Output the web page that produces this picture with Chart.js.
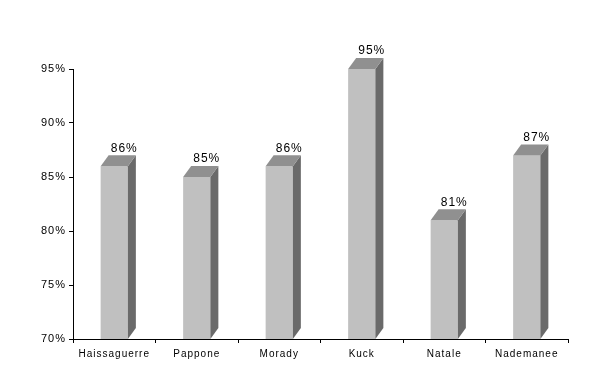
<!doctype html>
<html><head><meta charset="utf-8">
<script src="https://cdn.jsdelivr.net/npm/chart.js@4"></script>
<style>
  body{margin:0;background:#fff}
  #wrap{width:602px;height:377px}
</style></head><body>
<div id="wrap"><canvas id="c" width="602" height="377"></canvas></div>
<script>
const names = ['Haissaguerre', 'Pappone', 'Morady', 'Kuck', 'Natale', 'Nademanee'];
const rates = [86, 85, 86, 95, 81, 87];
const yTicks = [70, 75, 80, 85, 90, 95];

const DX = 8, DY = 11; // depth of the fake 3D box

// front/top/side shading + value labels
const box3d = {
  id: 'box3d',
  beforeDraw(chart) { chart.ctx.letterSpacing = '1px'; },
  afterDatasetsDraw(chart) {
    const ctx = chart.ctx;
    const meta = chart.getDatasetMeta(0);
    // bars start at 0 in Chart.js, so the floor is the bottom of the plot area
    const base = chart.chartArea.bottom;
    ctx.save();
    meta.data.forEach((bar, i) => {
      const { x, y, width } = bar.getProps(['x', 'y', 'width'], true);
      const l = x - width / 2, r = x + width / 2;
      ctx.fillStyle = '#6a6a6a';
      ctx.beginPath();
      ctx.moveTo(r, y); ctx.lineTo(r + DX, y - DY); ctx.lineTo(r + DX, base - DY); ctx.lineTo(r, base);
      ctx.closePath(); ctx.fill();
      ctx.fillStyle = '#909090';
      ctx.beginPath();
      ctx.moveTo(l, y); ctx.lineTo(l + DX, y - DY); ctx.lineTo(r + DX, y - DY); ctx.lineTo(r, y);
      ctx.closePath(); ctx.fill();
      ctx.fillStyle = '#000';
      ctx.font = '12px "Liberation Sans", Arial, sans-serif';
      ctx.letterSpacing = '1px';
      ctx.textAlign = 'center';
      ctx.textBaseline = 'bottom';
      ctx.fillText(rates[i] + '%', x + DX + 2, y - DY - 1);
    });
    ctx.restore();
  }
};

new Chart(document.getElementById('c'), {
  type: 'bar',
  data: {
    labels: names,
    datasets: [{
      data: rates,
      backgroundColor: '#c0c0c0',
      borderWidth: 0,
      categoryPercentage: 1,
      barPercentage: 0.33
    }]
  },
  plugins: [box3d],
  options: {
    responsive: false,
    animation: false,
    layout: { padding: { top: 69, right: 34, left: 0, bottom: 0 } },
    plugins: { legend: { display: false }, tooltip: { enabled: false } },
    scales: {
      x: {
        grid: { display: true, drawOnChartArea: false, offset: true, tickLength: 4, color: '#000' },
        border: { color: '#000', width: 1 },
        ticks: { color: '#000', font: { family: '"Liberation Sans", Arial, sans-serif', size: 10 }, padding: 5 },
        afterFit: s => { s.height = 38; }
      },
      y: {
        min: 70, max: 95,
        afterBuildTicks: s => { s.ticks = yTicks.map(v => ({ value: v })); },
        grid: { display: true, drawOnChartArea: false, tickLength: 4, color: '#000' },
        border: { color: '#000', width: 1 },
        ticks: { color: '#000', font: { family: '"Liberation Sans", Arial, sans-serif', size: 11 }, padding: 3, callback: v => v + '%' },
        afterFit: s => { s.width = 73; }
      }
    }
  }
});
</script>
</body></html>
